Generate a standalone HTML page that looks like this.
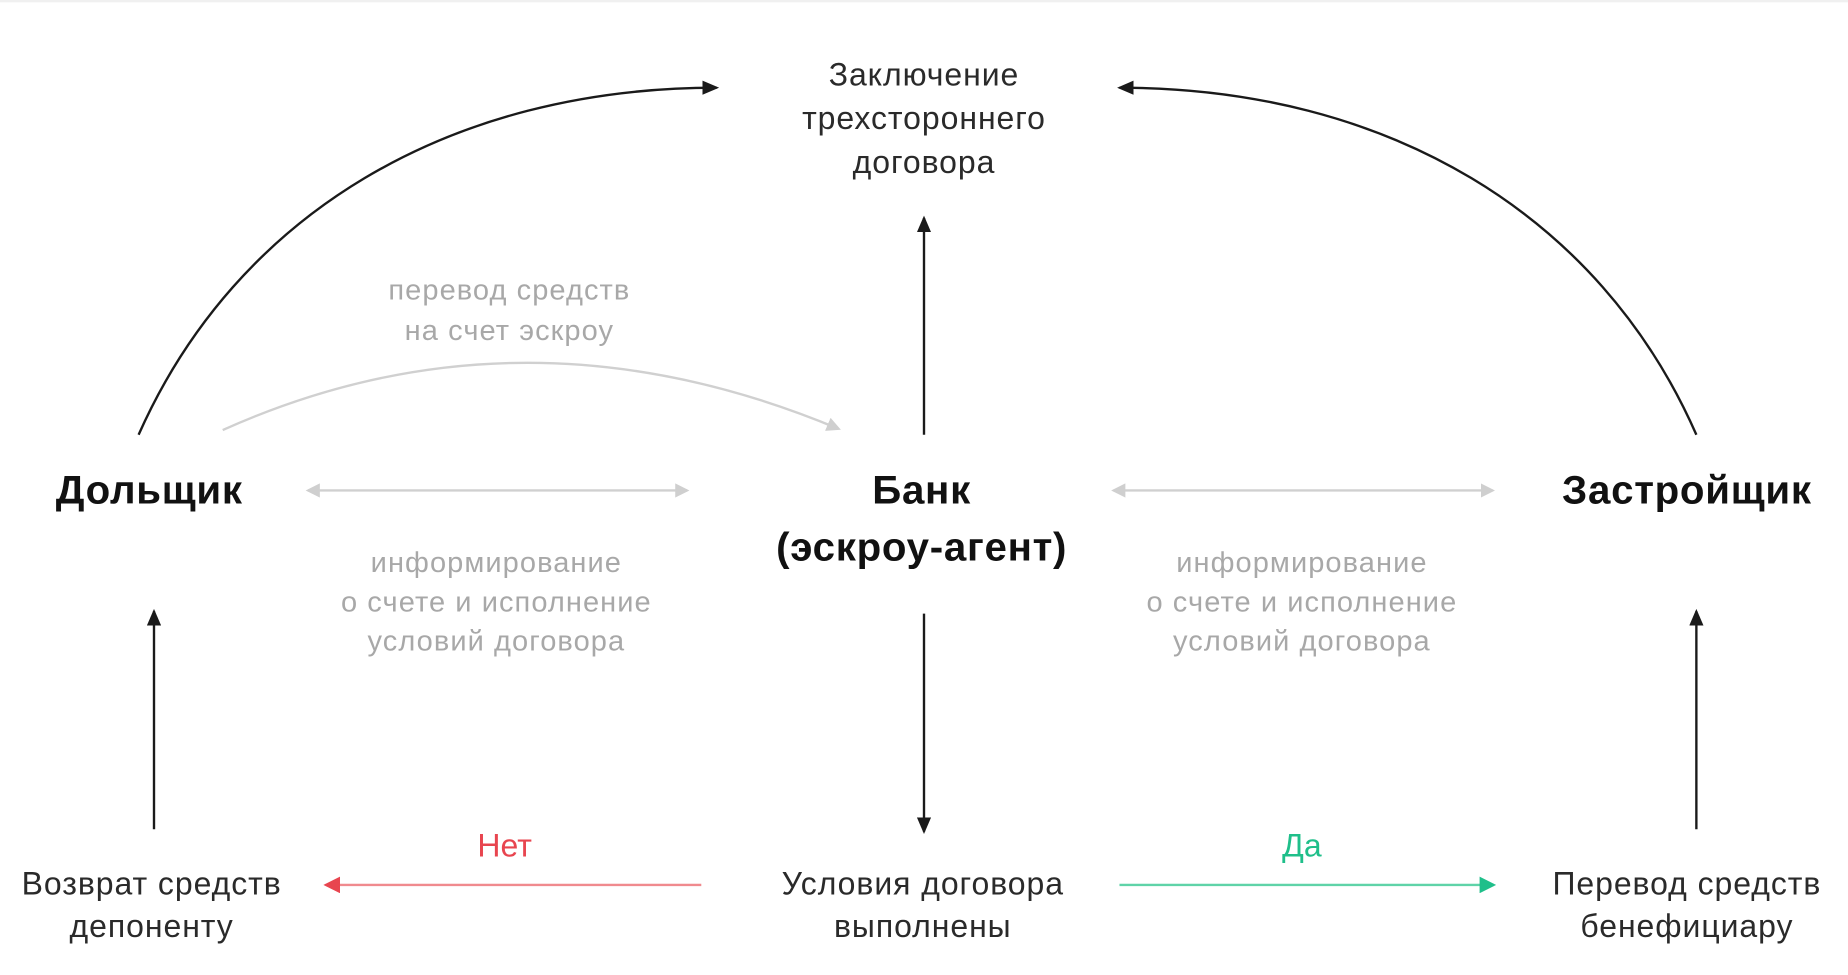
<!DOCTYPE html>
<html><head><meta charset="utf-8"><style>
html,body{margin:0;padding:0;background:#fff;}
svg{display:block;}
text{font-family:"Liberation Sans",sans-serif;text-anchor:middle;}
.d{fill:#2a2a2a;font-size:27px;letter-spacing:0.8px;}
.g{fill:#a8a8a8;font-size:24.5px;letter-spacing:0.9px;}
.b{fill:#111;font-size:34px;font-weight:bold;letter-spacing:0.6px;}
</style></head><body>
<svg width="1848" height="975" viewBox="0 0 1560 823" xmlns="http://www.w3.org/2000/svg">
<defs>
<marker id="ak" markerWidth="14" markerHeight="12" refX="12" refY="6" orient="auto" markerUnits="userSpaceOnUse"><path d="M0,0 L14,6 L0,12 z" fill="#1a1a1a"/></marker>
<marker id="ag" markerWidth="12" markerHeight="12" refX="10" refY="6" orient="auto-start-reverse" markerUnits="userSpaceOnUse"><path d="M0,0 L12,6 L0,12 z" fill="#cfcfcf"/></marker>
<marker id="ar" markerWidth="14" markerHeight="14" refX="12" refY="7" orient="auto" markerUnits="userSpaceOnUse"><path d="M0,0 L14,7 L0,14 z" fill="#e8454f"/></marker>
<marker id="an" markerWidth="14" markerHeight="14" refX="12" refY="7" orient="auto" markerUnits="userSpaceOnUse"><path d="M0,0 L14,7 L0,14 z" fill="#1fbf8a"/></marker>
</defs>
<line x1="0" y1="1" x2="1560" y2="1" stroke="#f0f0f0" stroke-width="2"/>
<path d="M117,367 C200,180 380,74 605,74" fill="none" stroke="#1a1a1a" stroke-width="2" marker-end="url(#ak)"/>
<path d="M1432,367 C1350,180 1170,74 945,74" fill="none" stroke="#1a1a1a" stroke-width="2" marker-end="url(#ak)"/>
<line x1="780" y1="367" x2="780" y2="184" stroke="#1a1a1a" stroke-width="2" marker-end="url(#ak)"/>
<line x1="780" y1="518" x2="780" y2="702" stroke="#1a1a1a" stroke-width="2" marker-end="url(#ak)"/>
<line x1="130" y1="700" x2="130" y2="516" stroke="#1a1a1a" stroke-width="2" marker-end="url(#ak)"/>
<line x1="1432" y1="700" x2="1432" y2="516" stroke="#1a1a1a" stroke-width="2" marker-end="url(#ak)"/>
<path d="M188,363 Q440,250 708,362" fill="none" stroke="#d0d0d0" stroke-width="2" marker-end="url(#ag)"/>
<line x1="260" y1="414" x2="580" y2="414" stroke="#d0d0d0" stroke-width="2" marker-start="url(#ag)" marker-end="url(#ag)"/>
<line x1="940" y1="414" x2="1260" y2="414" stroke="#d0d0d0" stroke-width="2" marker-start="url(#ag)" marker-end="url(#ag)"/>
<line x1="592" y1="747" x2="275" y2="747" stroke="#f08a8e" stroke-width="2" marker-end="url(#ar)"/>
<line x1="945" y1="747" x2="1261" y2="747" stroke="#5fd3a8" stroke-width="2" marker-end="url(#an)"/>
<text class="d" x="780" y="72">Заключение</text>
<text class="d" x="780" y="109">трехстороннего</text>
<text class="d" x="780" y="146">договора</text>
<text class="g" x="430" y="253">перевод средств</text>
<text class="g" x="430" y="287">на счет эскроу</text>
<text class="b" x="126" y="425">Дольщик</text>
<text class="b" x="778" y="425">Банк</text>
<text class="b" x="778" y="473">(эскроу-агент)</text>
<text class="b" x="1424" y="425">Застройщик</text>
<text class="g" x="419" y="483">информирование</text>
<text class="g" x="419" y="516">о счете и исполнение</text>
<text class="g" x="419" y="549">условий договора</text>
<text class="g" x="1099" y="483">информирование</text>
<text class="g" x="1099" y="516">о счете и исполнение</text>
<text class="g" x="1099" y="549">условий договора</text>
<text class="d" x="128" y="755">Возврат средств</text>
<text class="d" x="128" y="791">депоненту</text>
<text class="d" x="779" y="755">Условия договора</text>
<text class="d" x="779" y="791">выполнены</text>
<text class="d" x="1424" y="755">Перевод средств</text>
<text class="d" x="1424" y="791">бенефициару</text>
<text x="426" y="723" style="fill:#e8454f;font-size:27px">Нет</text>
<text x="1099" y="723" style="fill:#1fbf8a;font-size:27px">Да</text>
</svg>
</body></html>
